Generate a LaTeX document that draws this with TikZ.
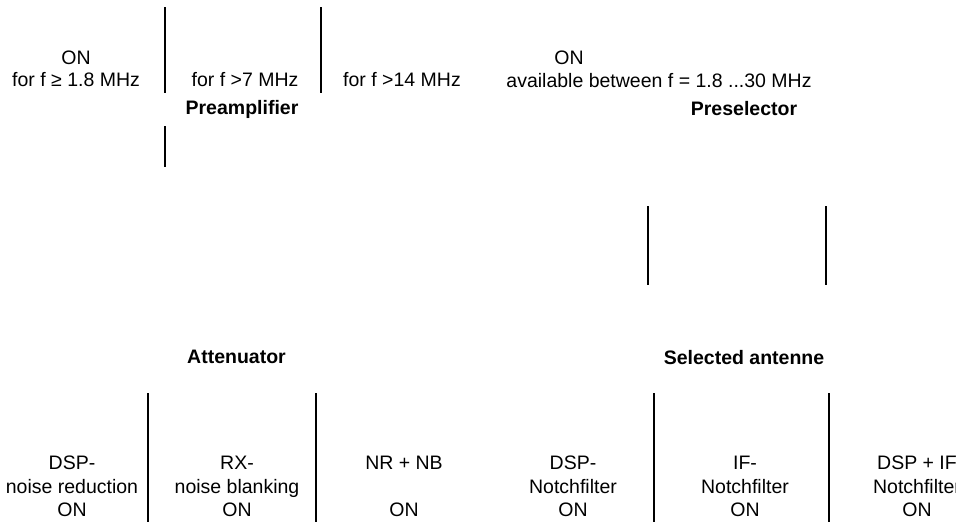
\documentclass[tikz,border=0pt]{standalone}
\usepackage{fontspec}
\setmainfont{Liberation Sans}
\begin{document}
\begin{tikzpicture}[x=1pt,y=-1pt,
  lbl/.style={anchor=base,inner sep=0pt,font=\fontsize{19.5}{24}\selectfont},
  ttl/.style={anchor=base,inner sep=0pt,font=\fontsize{19.5}{24}\selectfont\bfseries},
  sepline/.style={line width=2.2pt}]
\useasboundingbox (0,0) rectangle (956,522);
% separators
\coordinate (a1) at (165,7);   \coordinate (a2) at (165,93);
\coordinate (b1) at (165,126); \coordinate (b2) at (165,167);
\coordinate (c1) at (321,7);   \coordinate (c2) at (321,93);
\coordinate (d1) at (648,206); \coordinate (d2) at (648,285);
\coordinate (e1) at (826,206); \coordinate (e2) at (826,285);
\coordinate (g1) at (148,393); \coordinate (g2) at (148,522);
\coordinate (h1) at (316,393); \coordinate (h2) at (316,522);
\coordinate (i1) at (654,393); \coordinate (i2) at (654,522);
\coordinate (j1) at (829,393); \coordinate (j2) at (829,522);
\foreach \p in {a,b,c,d,e,g,h,i,j} \draw[sepline] (\p1) -- (\p2);
% top texts
\node[lbl] (on1) at (76,64) {ON};
\node[lbl] (f1) at (76,86) {for f ≥ 1.8 MHz};
\node[lbl] (f7) at (245,86) {for f >7 MHz};
\node[lbl] (f14) at (402,86) {for f >14 MHz};
\node[ttl] (pre) at (242,114) {Preamplifier};
\node[lbl] (on2) at (569,64) {ON};
\node[lbl] (avail) at (659,87) {available between f = 1.8 ...30 MHz};
\node[ttl] (psel) at (744,115) {Preselector};
% middle titles
\node[ttl] (att) at (236.5,363) {Attenuator};
\node[ttl] (ant) at (744,364) {Selected antenne};
% bottom texts
\node[lbl] (dsp1) at (72,469) {DSP-};
\node[lbl] (nr) at (72,493) {noise reduction};
\node[lbl] (on3) at (72,516) {ON};
\node[lbl] (rx) at (237,469) {RX-};
\node[lbl] (nb) at (237,493) {noise blanking};
\node[lbl] (on4) at (237,516) {ON};
\node[lbl] (nrnb) at (404,469) {NR + NB};
\node[lbl] (on5) at (404,516) {ON};
\node[lbl] (dsp2) at (573,469) {DSP-};
\node[lbl] (nf1) at (573,493) {Notchfilter};
\node[lbl] (on6) at (573,516) {ON};
\node[lbl] (iff) at (745,469) {IF-};
\node[lbl] (nf2) at (745,493) {Notchfilter};
\node[lbl] (on7) at (745,516) {ON};
\node[lbl] (dspif) at (917,469) {DSP + IF};
\node[lbl] (nf3) at (917,493) {Notchfilter};
\node[lbl] (on8) at (917,516) {ON};
\end{tikzpicture}
\end{document}
